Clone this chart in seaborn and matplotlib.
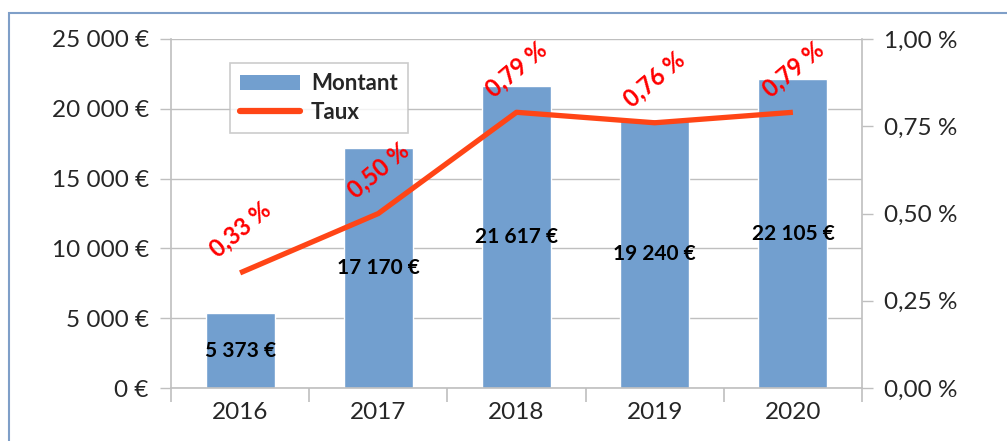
import numpy as np
import pandas as pd
import matplotlib.pyplot as plt
import seaborn as sns
from matplotlib.ticker import FuncFormatter, FixedLocator
from matplotlib.patches import Patch, Rectangle
from matplotlib.lines import Line2D

# données
annees = ['2016', '2017', '2018', '2019', '2020']
montants = [5373, 17170, 21617, 19240, 22105]
taux = [0.33, 0.50, 0.79, 0.76, 0.79]  # en %

sns.set_style('white')
plt.rcParams['font.family'] = ['Lato', 'DejaVu Sans']

bleu = '#729fcf'
orange = '#ff4516'
gris = '#bfbfbf'

df = pd.DataFrame({'Annee': annees, 'Montant': montants, 'Taux': taux})

fig = plt.figure(figsize=(10.07, 4.41), dpi=100)
ax = fig.add_axes([0.1698, 0.120, 0.6862, 0.7916])

# barres
sns.barplot(data=df, x='Annee', y='Montant', color=bleu, saturation=1,
            width=0.5, ax=ax)
ax.bar_label(ax.containers[0],
             labels=[f"{m:,.0f} €".replace(',', ' ') for m in montants],
             label_type='center', fontsize=15, fontweight='bold', color='black')

ax.set_ylim(0, 25000)
ax.set_yticks(np.arange(0, 25001, 5000))
ax.yaxis.set_major_formatter(FuncFormatter(lambda v, _: f"{v:,.0f} €".replace(',', ' ')))
ax.set_xlabel('')
ax.set_ylabel('')
ax.set_axisbelow(True)
ax.yaxis.grid(True, color=gris, linewidth=1)
ax.xaxis.grid(False)

# courbe du taux
ax2 = ax.twinx()
sns.lineplot(x=np.arange(len(annees)), y=taux, ax=ax2, color=orange,
             linewidth=3.8, solid_capstyle='butt')
for i, t in enumerate(taux):
    ax2.annotate(f"{t:.2f} %".replace('.', ','), (i, t), xytext=(0, 31),
                 textcoords='offset points', ha='center', va='center',
                 rotation=40, rotation_mode='anchor', color='red',
                 fontsize=17, fontweight='bold')
ax2.set_ylim(0, 1)
ax2.set_yticks([0, 0.25, 0.5, 0.75, 1.0])
ax2.yaxis.set_major_formatter(FuncFormatter(lambda v, _: f"{v:.2f} %".replace('.', ',')))
ax2.set_ylabel('')

ax.set_xlim(-0.5, len(annees) - 0.5)

# axes / ticks
for a in (ax, ax2):
    for s in a.spines.values():
        s.set_visible(False)
ax.spines['left'].set_visible(True)
ax.spines['bottom'].set_visible(True)
ax2.spines['right'].set_visible(True)
for s in (ax.spines['left'], ax.spines['bottom'], ax2.spines['right']):
    s.set_color(gris)
    s.set_linewidth(1.2)

ax.tick_params(axis='y', length=8, width=1, color=gris, labelsize=17.5, pad=8, left=True)
ax2.tick_params(axis='y', length=8, width=1, color=gris, labelsize=17.5, pad=8, right=True)
ax.set_xticks(range(len(annees)))
ax.set_xticklabels(annees)
ax.xaxis.set_minor_locator(FixedLocator(np.arange(-0.5, len(annees), 1)))
ax.tick_params(axis='x', which='major', length=0, labelsize=17.5, pad=10)
ax.tick_params(axis='x', which='minor', length=10, width=1.2, color=gris, bottom=True)

# légende
handles = [Patch(facecolor=bleu, edgecolor='none', label='Montant'),
           Line2D([0], [0], color=orange, linewidth=4.5, label='Taux')]
leg = ax2.legend(handles=handles, loc='upper left', bbox_to_anchor=(0.085, 0.931),
                 prop={'weight': 'bold', 'size': 16}, frameon=True, fancybox=False,
                 edgecolor=gris, handlelength=2.7, handleheight=0.65,
                 handletextpad=0.5, borderpad=0.45, labelspacing=0.35,
                 borderaxespad=0)
leg.get_frame().set_linewidth(1.2)

# cadre du graphique
fig.add_artist(Rectangle((8.5 / 1007, -0.5), 2, 0.5 + 1 - 12.5 / 441,
                         transform=fig.transFigure, fill=False,
                         edgecolor='#7f9fc8', linewidth=1.5))

fig.savefig('out.png', dpi=100)
